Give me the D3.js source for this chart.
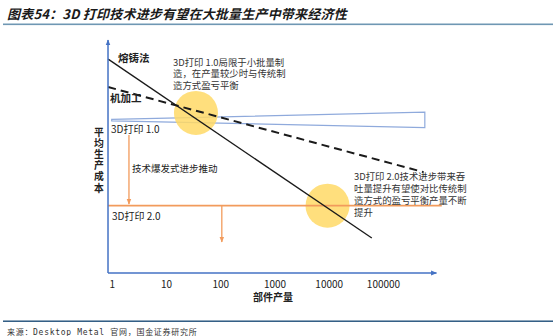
<!DOCTYPE html>
<html><head><meta charset="utf-8">
<script src="https://cdn.jsdelivr.net/npm/d3@7"></script>
<style>
body{margin:0;background:#fff;}
svg{display:block;font-family:"Noto Sans CJK SC","Noto Sans",sans-serif;}
.note{font-family:"Noto Sans CJK SC","Noto Sans",sans-serif;font-size:9.4px;color:#333;margin:0;padding:0;white-space:nowrap;}
</style></head>
<body>
<svg id="c" width="553" height="336"></svg>
<script>
// ---- data (volume in parts, cost in arbitrary units 0-100) ----
const volumeTicks = [1, 10, 100, 1000, 10000, 100000];
const castingLine = [[0.86, 91.8], [62200, 15.0]];
const machiningLine = [[0.86, 79.8], [560000, 43.3]];
const print1Wedge = [[1.0, 65.9], [590000, 69.0], [590000, 62.4], [1.0, 65.3]];
const print2Line = [[0.86, 28.9], [1210000, 28.9]];
const techArrows = [[2.08, 59.2, 29.6], [107, 28.9, 13.3]];
const breakEvenCircles = [[35.7, 68.7], [9500, 28.9]];
const axisExtent = {vMin: 0.855, vMax: 967000, cMax: 100};
const titleText = "图表54：3D 打印技术进步有望在大批量生产中带来经济性";
const sourceText = "来源：Desktop Metal 官网，国金证券研究所";
const yAxisLabel = "平均生产成本";
const xAxisLabel = "部件产量";
const note1 = ["3D打印 1.0局限于小批量制", "造，在产量较少时与传统制", "造方式盈亏平衡"];
const note2 = ["3D打印 2.0技术进步带来吞", "吐量提升有望使对比传统制", "造方式的盈亏平衡产量不断", "提升"];

const svg = d3.select("#c");
const x = d3.scaleLog().domain([1, 100000]).range([111.7, 383]);
const y = d3.scaleLinear().domain([0, 100]).range([273, 40]);

const axisBlue = "#4472c4", orange = "#f29b5c", wedgeBlue = "#8faadc";

// defs
const defs = svg.append("defs");
function marker(id, color, size) {
  defs.append("marker").attr("id", id).attr("viewBox", "0 0 10 10")
    .attr("refX", 9).attr("refY", 5).attr("markerWidth", size).attr("markerHeight", size)
    .attr("orient", "auto").attr("markerUnits", "userSpaceOnUse")
    .append("path").attr("d", "M0,1 L10,5 L0,9 Z").attr("fill", color);
}
marker("arrBlue", axisBlue, 6);
marker("arrOrange", orange, 6);

// title
svg.append("text").attr("x", 7).attr("y", 19).text(titleText)
  .attr("font-size", 13).attr("font-weight", "bold").attr("font-style", "italic")
  .attr("fill", "#1a1a1a").attr("letter-spacing", 0.2);
svg.append("rect").attr("x", 3).attr("y", 23.5).attr("width", 550).attr("height", 1.6).attr("fill", "#6f97b3");

// wedge (3D 1.0)
svg.append("path").datum(print1Wedge)
  .attr("d", d3.line().x(d => x(d[0])).y(d => y(d[1])).curve(d3.curveLinearClosed))
  .attr("fill", "none").attr("stroke", wedgeBlue).attr("stroke-width", 1.2);

// circles
svg.selectAll("circle.be").data(breakEvenCircles).join("circle").attr("class", "be")
  .attr("cx", d => x(d[0])).attr("cy", d => y(d[1])).attr("r", 22)
  .attr("fill", "#ffd966").attr("opacity", 0.85);

// orange 3D 2.0 line
svg.append("path").datum(print2Line)
  .attr("d", d3.line().x(d => x(d[0])).y(d => y(d[1])))
  .attr("stroke", orange).attr("stroke-width", 1.6).attr("fill", "none");

// orange arrows
svg.selectAll("line.ta").data(techArrows).join("line").attr("class", "ta")
  .attr("x1", d => x(d[0])).attr("x2", d => x(d[0]))
  .attr("y1", d => y(d[1])).attr("y2", d => y(d[2]))
  .attr("stroke", orange).attr("stroke-width", 1.3).attr("marker-end", "url(#arrOrange)");

// casting (solid) & machining (dashed)
svg.append("path").datum(castingLine)
  .attr("d", d3.line().x(d => x(d[0])).y(d => y(d[1])))
  .attr("stroke", "#1a1a1a").attr("stroke-width", 1.3).attr("fill", "none");
svg.append("path").datum(machiningLine)
  .attr("d", d3.line().x(d => x(d[0])).y(d => y(d[1])))
  .attr("stroke", "#1a1a1a").attr("stroke-width", 2).attr("stroke-dasharray", "8,5").attr("fill", "none");

// axes lines with arrows
svg.append("line").attr("x1", x(axisExtent.vMin)).attr("x2", x(axisExtent.vMin))
  .attr("y1", y(0)).attr("y2", y(axisExtent.cMax))
  .attr("stroke", axisBlue).attr("stroke-width", 1.5).attr("marker-end", "url(#arrBlue)");
svg.append("line").attr("x1", x(axisExtent.vMin)).attr("x2", x(axisExtent.vMax))
  .attr("y1", y(0)).attr("y2", y(0))
  .attr("stroke", axisBlue).attr("stroke-width", 1.5).attr("marker-end", "url(#arrBlue)");

// tick labels
const ax = svg.append("g").attr("transform", `translate(0,${y(0)})`)
  .call(d3.axisBottom(x).tickValues(volumeTicks).tickFormat(d3.format("d")).tickSize(0).tickPadding(8));
ax.select(".domain").remove();
ax.selectAll("text").attr("font-size", 10).attr("fill", "#222")
  .attr("font-family", "'Noto Sans CJK SC','Noto Sans',sans-serif");

svg.append("text").attr("x", 273).attr("y", 301).attr("text-anchor", "middle")
  .attr("font-size", 10).attr("font-weight", "bold").attr("fill", "#222").text(xAxisLabel);

// vertical y-axis label as one text element
svg.append("text").attr("x", 99).attr("y", 127)
  .attr("font-size", 9.8).attr("font-weight", "bold").attr("fill", "#222")
  .style("writing-mode", "vertical-rl").style("text-orientation", "upright")
  .attr("letter-spacing", 1.4).text(yAxisLabel);

// line labels
function label(txt, lx, ly, size, weight) {
  svg.append("text").attr("x", lx).attr("y", ly).attr("font-size", size)
    .attr("font-weight", weight || "normal").attr("fill", "#222").text(txt);
}
label("熔铸法", 118, 62, 10.5, "bold");
label("机加工", 110, 101.5, 10.5, "bold");
label("3D打印 1.0", 111, 133, 10, "normal");
label("技术爆发式进步推动", 132, 171.5, 9.5, "normal");
label("3D打印 2.0", 112, 219.5, 10, "normal");

// notes (multi-line blocks)
function note(lines, nx, ny, lh) {
  svg.append("foreignObject").attr("x", nx).attr("y", ny).attr("width", 140).attr("height", lh * lines.length + 4)
    .append("xhtml:div").attr("class", "note").style("line-height", lh + "px")
    .html(lines.join("<br>"));
}
note(note1, 173, 56.5, 11.5);
note(note2, 354, 170, 12);

// footer
svg.append("rect").attr("x", 3).attr("y", 320.5).attr("width", 550).attr("height", 1.4).attr("fill", "#1f4e79");
svg.append("text").attr("x", 7).attr("y", 334.5).attr("font-size", 8).attr("fill", "#333")
  .attr("letter-spacing", 0.7)
  .attr("font-family", "'DejaVu Sans Mono','Noto Sans CJK SC',monospace").text(sourceText);
</script>
</body></html>
